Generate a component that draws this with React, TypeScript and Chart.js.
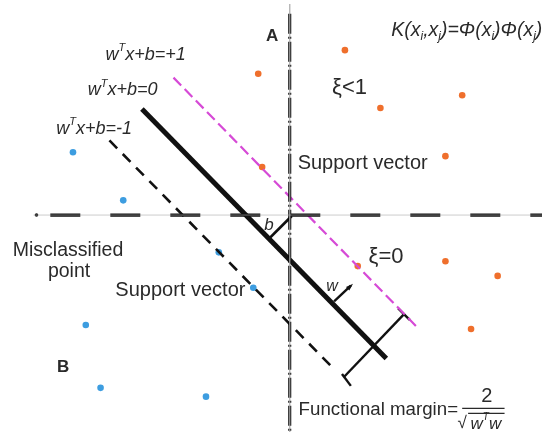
import React, { useEffect, useRef } from "react";
import { Chart, registerables } from "chart.js";

Chart.register(...registerables);

// Coordinate system: origin at the axes crossing, 1 unit = 10 px
const xRange = [-29, 25.6];
const yRange = [-22.1, 21.5];

// Class A (orange) samples
const classA: number[][] = [
  [-3.2, 14.4], [-2.8, 4.9], [5.6, 16.8], [9.2, 10.9], [17.5, 12.2],
  [15.8, 6.0], [6.9, -5.2], [15.8, -4.7], [21.1, -6.2], [18.4, -11.6],
];
// Class B (blue) samples
const classB: number[][] = [
  [-22.0, 6.4], [-16.9, 1.5], [-7.2, -3.8], [-3.7, -7.4],
  [-20.7, -11.2], [-19.2, -17.6], [-8.5, -18.5],
];

// Lines
const hyperplane = [[-15, 10.8], [9.8, -14.6]];
const marginPlus = [[-11.8, 14.0], [13.0, -11.5]];
const marginMinus = [[-18.3, 7.6], [4.6, -15.8]];
const axisH = [[-24.3, 0], [25.6, 0]];
const axisHDot = [[-25.7, 0]];
const axisV = [[0, 20.5], [0, -22.1]];
const guideH = [[-26, 0], [25.6, 0]];
const guideV = [[0, 21.5], [0, -22.1]];
const offsetB = [[0.2, -0.1], [-2.0, -2.3]];
const marginBracket = [[11.6, -10.1], [5.5, -16.5]];
const bracketTopTick = [[11.0, -9.5], [12.2, -10.7]];
const bracketBottomTick = [[5.3, -16.2], [6.2, -17.4]];
const normalVector = [[4.5, -8.8], [6.2, -7.2]];
const fractionBar = [[17.5, -19.7], [21.8, -19.7]];
const sqrtBar = [[18.1, -20.2], [21.8, -20.2]];

type Part = [string, "n" | "sup" | "sub"];
type Label = { parts: Part[]; x: number; y: number; size: number; italic?: boolean; bold?: boolean; align: "left" | "center" };

const labels: Label[] = [
  { parts: [["A", "n"]], x: -1.8, y: 18.2, size: 17, bold: true, align: "center" },
  { parts: [["B", "n"]], x: -23.0, y: -15.5, size: 17, bold: true, align: "center" },
  { parts: [["w", "n"], ["T", "sup"], ["x+b=+1", "n"]], x: -18.7, y: 16.3, size: 18, italic: true, align: "left" },
  { parts: [["w", "n"], ["T", "sup"], ["x+b=0", "n"]], x: -20.5, y: 12.7, size: 18, italic: true, align: "left" },
  { parts: [["w", "n"], ["T", "sup"], ["x+b=-1", "n"]], x: -23.7, y: 8.8, size: 18, italic: true, align: "left" },
  {
    parts: [["K(x", "n"], ["i", "sub"], [",x", "n"], ["j", "sub"], [")=Φ(x", "n"], ["i", "sub"], [")Φ(x", "n"], ["j", "sub"], [")", "n"]],
    x: 10.3, y: 18.8, size: 19.5, italic: true, align: "left",
  },
  { parts: [["ξ<1", "n"]], x: 4.3, y: 13.0, size: 22, align: "left" },
  { parts: [["Support vector", "n"]], x: 0.8, y: 5.3, size: 20, align: "left" },
  { parts: [["ξ=0", "n"]], x: 8.0, y: -4.3, size: 22, align: "left" },
  { parts: [["Misclassified", "n"]], x: -22.5, y: -3.6, size: 19.5, align: "center" },
  { parts: [["point", "n"]], x: -22.4, y: -5.8, size: 19.5, align: "center" },
  { parts: [["Support vector", "n"]], x: -17.7, y: -7.7, size: 20, align: "left" },
  { parts: [["w", "n"]], x: 4.3, y: -7.3, size: 16, italic: true, align: "center" },
  { parts: [["b", "n"]], x: -2.1, y: -1.0, size: 17, italic: true, align: "center" },
  { parts: [["Functional margin=", "n"]], x: 0.9, y: -19.8, size: 18.7, align: "left" },
  { parts: [["2", "n"]], x: 20.0, y: -18.5, size: 20, align: "center" },
  { parts: [["√", "n"]], x: 17.5, y: -21.2, size: 17, align: "center" },
  { parts: [["w", "n"], ["T", "sup"], ["w", "n"]], x: 19.9, y: -21.3, size: 17, italic: true, align: "center" },
];

const TEXT = "#2a2a2a";
const ORANGE = "#ef6f2c";
const BLUE = "#3d9de0";
const MAGENTA = "#d64ad6";

const pts = (a: number[][]) => a.map(([x, y]) => ({ x, y }));

function lineDs(data: number[][], color: string, width: number, dash: number[] = []) {
  return {
    type: "line" as const,
    data: pts(data),
    borderColor: color,
    borderWidth: width,
    borderDash: dash,
    pointRadius: 0,
    showLine: true,
    fill: false,
    borderCapStyle: "butt" as const,
  };
}

const overlayPlugin = {
  id: "overlay",
  afterDatasetsDraw(chart: any) {
    const ctx = chart.ctx as CanvasRenderingContext2D;
    const sx = chart.scales.x;
    const sy = chart.scales.y;
    ctx.save();
    // arrow head of w
    const [p0, p1] = normalVector;
    const x0 = sx.getPixelForValue(p0[0]), y0 = sy.getPixelForValue(p0[1]);
    const x1 = sx.getPixelForValue(p1[0]), y1 = sy.getPixelForValue(p1[1]);
    const ang = Math.atan2(y1 - y0, x1 - x0);
    ctx.fillStyle = "#111";
    ctx.beginPath();
    ctx.moveTo(x1 + 3 * Math.cos(ang), y1 + 3 * Math.sin(ang));
    ctx.lineTo(x1 - 5 * Math.cos(ang - 0.5), y1 - 5 * Math.sin(ang - 0.5));
    ctx.lineTo(x1 - 5 * Math.cos(ang + 0.5), y1 - 5 * Math.sin(ang + 0.5));
    ctx.closePath();
    ctx.fill();
    // labels
    ctx.fillStyle = TEXT;
    ctx.textBaseline = "middle";
    for (const l of labels) {
      const fontFor = (k: string) => {
        const s = k === "n" ? l.size : Math.round(l.size * 0.6);
        return `${l.italic ? "italic " : ""}${l.bold ? "bold " : ""}${s}px "Liberation Sans", Arial, sans-serif`;
      };
      let total = 0;
      for (const [t, k] of l.parts) {
        ctx.font = fontFor(k);
        total += ctx.measureText(t).width;
      }
      let cx = sx.getPixelForValue(l.x);
      const cy = sy.getPixelForValue(l.y);
      if (l.align === "center") cx -= total / 2;
      ctx.textAlign = "left";
      for (const [t, k] of l.parts) {
        ctx.font = fontFor(k);
        const dy = k === "sup" ? -l.size * 0.38 : k === "sub" ? l.size * 0.3 : 0;
        ctx.fillText(t, cx, cy + dy);
        cx += ctx.measureText(t).width;
      }
    }
    ctx.restore();
  },
};

export default function App() {
  const ref = useRef<HTMLCanvasElement | null>(null);
  useEffect(() => {
    if (!ref.current) return;
    const chart = new Chart(ref.current, {
      type: "scatter",
      data: {
        datasets: [
          lineDs(guideH, "rgba(170,170,170,0.6)", 1),
          lineDs(guideV, "rgba(170,170,170,0.6)", 1),
          lineDs(axisH, "#111", 3.2, [30, 30]),
          {
            type: "scatter" as const,
            data: pts(axisHDot),
            pointRadius: 1.8,
            backgroundColor: "#111",
            borderWidth: 0,
          },
          lineDs(axisV, "#000", 3, [20, 3, 2, 3]),
          lineDs(marginPlus, MAGENTA, 2.2, [11, 5]),
          lineDs(marginMinus, "#111", 2.6, [11, 8]),
          lineDs(hyperplane, "#111", 5),
          lineDs(offsetB, "#111", 2.8),
          lineDs(marginBracket, "#111", 2.4),
          lineDs(bracketTopTick, "#111", 2.4),
          lineDs(bracketBottomTick, "#111", 2.4),
          lineDs(normalVector, "#111", 2.4),
          lineDs(fractionBar, TEXT, 1.3),
          lineDs(sqrtBar, TEXT, 1.2),
          {
            type: "scatter" as const,
            data: pts(classA),
            pointRadius: 3.3,
            backgroundColor: ORANGE,
            borderWidth: 0,
          },
          {
            type: "scatter" as const,
            data: pts(classB),
            pointRadius: 3.3,
            backgroundColor: BLUE,
            borderWidth: 0,
          },
        ] as any,
      },
      options: {
        animation: false,
        responsive: false,
        maintainAspectRatio: false,
        devicePixelRatio: 1,
        layout: { padding: 0 },
        plugins: { legend: { display: false }, tooltip: { enabled: false } },
        events: [],
        scales: {
          x: { type: "linear", min: xRange[0], max: xRange[1], display: false },
          y: { type: "linear", min: yRange[0], max: yRange[1], display: false },
        },
      },
      plugins: [overlayPlugin],
    });
    return () => chart.destroy();
  }, []);
  return (
    <div style={{ position: "fixed", left: 0, top: 0, width: 546, height: 436, background: "#fff" }}>
      <canvas ref={ref} width={546} height={436} style={{ width: 546, height: 436 }} />
    </div>
  );
}
